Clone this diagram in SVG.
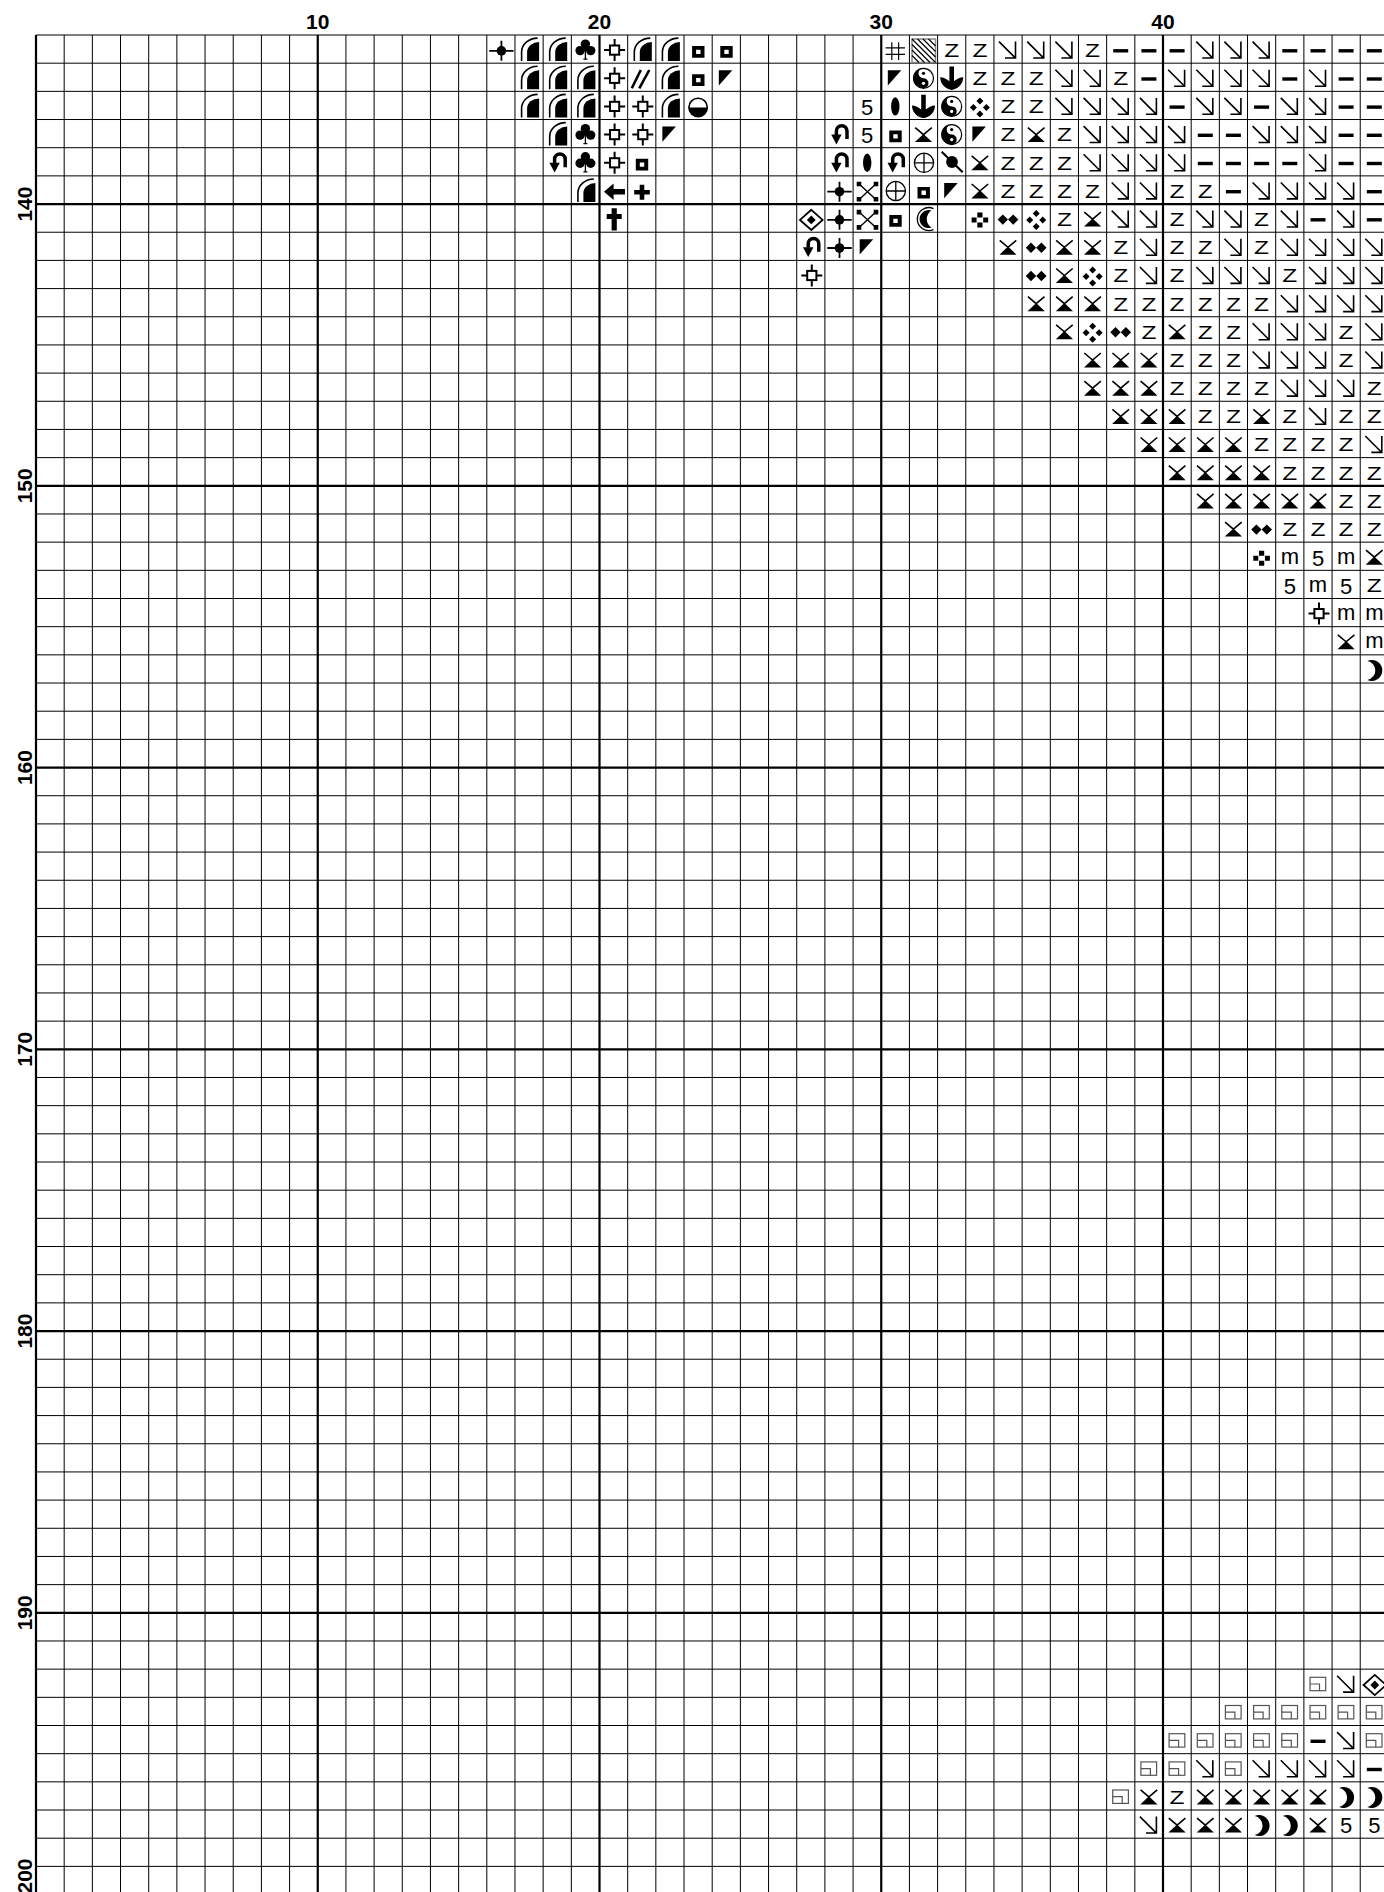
<svg xmlns="http://www.w3.org/2000/svg" width="1384" height="1892" viewBox="0 0 1384 1892">
<style>
.z{font-family:"Liberation Sans",Arial,sans-serif;font-size:17.5px;fill:#000}
.t{font-family:"Liberation Sans",Arial,sans-serif;font-size:22px;text-anchor:middle;fill:#000}
.lb{font-family:"Liberation Sans",Arial,sans-serif;font-size:21px;font-weight:bold;text-anchor:middle;fill:#000}
.thin{fill:none;stroke:#000;stroke-width:1}
.thick{fill:none;stroke:#000;stroke-width:2.2}
</style>
<defs>
<g id="ar" fill="none" stroke="#000" stroke-width="1.6"><path d="M-9,-7.5 L7.5,9 M7.5,-7.5 V9.7 M-3,8.9 H8.3"/></g>
<rect id="dash" x="-7.5" y="0" width="15" height="3.4"/>
<g id="hg"><path d="M-8.3,-6 L0,1 L8.3,-6" fill="none" stroke="#000" stroke-width="1.6"/><path d="M0,0.3 L8.6,8.5 H-8.6 Z"/></g>
<path id="tri" d="M-7.5,-7 H6 L-7.5,8.2 Z"/>
<path id="sqf" d="M-6,-3 H6.4 V8.6 H-6 Z M-2,0.6 V5 H2.4 V0.6 Z" fill-rule="evenodd"/>
<ellipse id="oval" cx="0" cy="1" rx="4.2" ry="9.2"/>
<path id="d4" d="M0,-8 L3.5,-4.5 L0,-1 L-3.5,-4.5 Z M0,5 L3.5,8.5 L0,12 L-3.5,8.5 Z M-10,2 L-6.5,-1.5 L-3,2 L-6.5,5.5 Z M3,2 L6.5,-1.5 L10,2 L6.5,5.5 Z"/>
<path id="dd" d="M-10.4,1.5 L-5.2,-3.7 L0,1.5 L-5.2,6.7 Z M0,1.5 L5.2,-3.7 L10.4,1.5 L5.2,6.7 Z"/>
<path id="fc" d="M-2.6,-5.5 h5.2 v5 h-5.2 Z M-2.6,4.5 h5.2 v5 h-5.2 Z M-8.3,-0.5 h5 v5 h-5 Z M3.3,-0.5 h5 v5 h-5 Z"/>
<g id="dmd"><path d="M0.5,-8.3 L11.8,1.8 L0.5,11.9 L-10.8,1.8 Z" fill="none" stroke="#000" stroke-width="1.8"/><path d="M0.5,-2.6 L4.9,1.8 L0.5,6.2 L-3.9,1.8 Z"/></g>
<g id="ch"><path d="M-11.7,1.7 H12.7 M0.5,-8.3 V11.7" stroke="#000" stroke-width="1.8"/><circle cx="0.5" cy="1.7" r="4.8"/></g>
<g id="xs"><path d="M-7.8,-5.8 L8.4,9.2 M8.4,-5.8 L-7.8,9.2" stroke="#000" stroke-width="1.4"/><path d="M-10.5,-8.3 h4.6 v4.6 h-4.6 Z M6.5,-8.3 h4.6 v4.6 h-4.6 Z M-10.5,7 h4.6 v4.6 h-4.6 Z M6.5,7 h4.6 v4.6 h-4.6 Z"/></g>
<g id="op" fill="none" stroke="#000" stroke-width="1.3"><circle cx="0.5" cy="1" r="9.6"/><path d="M-9.1,1 H10.1 M0.5,-8.6 V10.6"/></g>
<g id="pin"><path d="M-10,-10 L11,10.5" stroke="#000" stroke-width="2.2"/><circle cx="0.3" cy="0.2" r="5.9"/></g>
<g id="ut"><path d="M8,5.5 V-2.5 A5.3,5.3 0 0,0 -2.6,-2.5 V1.5" fill="none" stroke="#000" stroke-width="3.5"/><path d="M-7.8,1 H2.6 L-2.6,10.8 Z"/></g>
<g id="cr1"><path d="M10,-9.5 A11.5,11.5 0 1,0 10,11.5" fill="none" stroke="#000" stroke-width="1.3"/><path d="M8,-7.5 A9,9 0 1,0 8,9.5 A10,10 0 0,1 8,-7.5 Z"/></g>
<path id="cr2" d="M-7,-8 A10.51,10.51 0 1,1 -7,11 A9.64,9.64 0 0,0 -7,-8 Z"/>
<g id="half"><circle cx="0" cy="2" r="9.2" fill="#fff" stroke="#000" stroke-width="1.6"/><path d="M-9.2,2 A9.2,9.2 0 0,0 9.2,2 Z"/></g>
<g id="qa"><path d="M-2,12 V3 A12,10 0 0,1 10,-7 V12 Z"/><path d="M-7.5,12 V3 A16,14 0 0,1 8.5,-11" fill="none" stroke="#000" stroke-width="1.6"/></g>
<g id="club"><circle cx="0" cy="-5" r="4.7"/><circle cx="-5.3" cy="1.5" r="4.7"/><circle cx="5.3" cy="1.5" r="4.7"/><path d="M0,-3 L3,2 L-3,2 Z"/><path d="M0,0 V10 M-2,10 H2" stroke="#000" stroke-width="1.3"/></g>
<g id="sqx" fill="none" stroke="#000" stroke-width="2"><rect x="-3.6" y="-3.6" width="9.2" height="9.2"/><path d="M-9.5,1 H-3.6 M5.6,1 H11.5 M1,-10 V-3.6 M1,5.6 V12"/></g>
<path id="la" d="M-9.6,1.7 L0,-6.6 V-1.1 H11.4 V4.5 H0 V10 Z"/>
<path id="pl" d="M-7.6,0 H-2.1 V-5.2 H2.5 V0 H8 V4.6 H2.5 V9.8 H-2.1 V4.6 H-7.6 Z"/>
<path id="dag" d="M-2,-9.8 H3.2 V-4 H8.1 V1 H3.2 V12.4 H-2 V1 H-6.9 V-4 H-2 Z"/>
<path id="ss" d="M-10,11 L-1,-7.3 M-2.5,11 L7.5,-7.3" stroke="#000" stroke-width="2.6"/>
<path id="hash" d="M-3.5,-6.8 V10.9 M3.3,-6.8 V10.9 M-9.7,-1.3 H9.7 M-9.7,5.3 H9.7" stroke="#000" stroke-width="1.2"/>
<g id="yy"><circle cx="0" cy="1" r="10" fill="#fff" stroke="#000" stroke-width="1.2"/><path d="M0,-9 A10,10 0 0,0 0,11 A5,5 0 0,0 0,1 A5,5 0 0,1 0,-9 Z"/><circle cx="0" cy="6" r="1.6" fill="#fff"/><circle cx="0" cy="-4" r="1.6"/></g>
<path id="anc" d="M-11.5,0 C-11.5,8 -5,12 0,12.7 C5,12 11.5,8 11.5,0 C8,0 5,2 2.3,4 V-10.7 H-2.3 V4 C-5,2 -8,0 -11.5,0 Z"/>
<g id="sqg" fill="none" stroke="#555" stroke-width="1.2"><rect x="-8" y="-5.9" width="15.7" height="13.4"/><path d="M-8,0.8 H1.5 V7.5"/></g>
</defs>
<rect x="0" y="0" width="1384" height="1892" fill="#fff"/>
<g id="grid">
<path class="thin" d="M64.18,35V1892M92.35,35V1892M120.53,35V1892M148.7,35V1892M176.88,35V1892M205.05,35V1892M233.23,35V1892M261.4,35V1892M289.58,35V1892M345.93,35V1892M374.1,35V1892M402.28,35V1892M430.45,35V1892M458.63,35V1892M486.8,35V1892M514.98,35V1892M543.15,35V1892M571.33,35V1892M627.68,35V1892M655.85,35V1892M684.03,35V1892M712.2,35V1892M740.38,35V1892M768.55,35V1892M796.73,35V1892M824.9,35V1892M853.08,35V1892M909.43,35V1892M937.6,35V1892M965.78,35V1892M993.95,35V1892M1022.13,35V1892M1050.3,35V1892M1078.48,35V1892M1106.65,35V1892M1134.83,35V1892M1191.18,35V1892M1219.35,35V1892M1247.53,35V1892M1275.7,35V1892M1303.88,35V1892M1332.05,35V1892M1360.23,35V1892"/>
<path class="thin" d="M36,35H1384M36,63.18H1384M36,91.35H1384M36,119.53H1384M36,147.7H1384M36,175.88H1384M36,232.23H1384M36,260.4H1384M36,288.58H1384M36,316.75H1384M36,344.93H1384M36,373.1H1384M36,401.28H1384M36,429.45H1384M36,457.63H1384M36,513.98H1384M36,542.15H1384M36,570.33H1384M36,598.5H1384M36,626.68H1384M36,654.85H1384M36,683.03H1384M36,711.2H1384M36,739.38H1384M36,795.73H1384M36,823.9H1384M36,852.08H1384M36,880.25H1384M36,908.43H1384M36,936.6H1384M36,964.78H1384M36,992.95H1384M36,1021.13H1384M36,1077.48H1384M36,1105.65H1384M36,1133.83H1384M36,1162H1384M36,1190.18H1384M36,1218.35H1384M36,1246.53H1384M36,1274.7H1384M36,1302.88H1384M36,1359.23H1384M36,1387.4H1384M36,1415.58H1384M36,1443.75H1384M36,1471.93H1384M36,1500.1H1384M36,1528.28H1384M36,1556.45H1384M36,1584.63H1384M36,1640.98H1384M36,1669.15H1384M36,1697.33H1384M36,1725.5H1384M36,1753.68H1384M36,1781.85H1384M36,1810.03H1384M36,1838.2H1384M36,1866.38H1384"/>
<path class="thick" d="M36,35V1892M317.75,35V1892M599.5,35V1892M881.25,35V1892M1163,35V1892M36,204.05H1384M36,485.8H1384M36,767.55H1384M36,1049.3H1384M36,1331.05H1384M36,1612.8H1384"/>
</g>
<g id="labels">
<text class="lb" x="317.75" y="29.3">10</text>
<text class="lb" x="599.5" y="29.3">20</text>
<text class="lb" x="881.25" y="29.3">30</text>
<text class="lb" x="1163" y="29.3">40</text>
<text class="lb" transform="translate(31.7,204.05) rotate(-90)">140</text>
<text class="lb" transform="translate(31.7,485.8) rotate(-90)">150</text>
<text class="lb" transform="translate(31.7,767.55) rotate(-90)">160</text>
<text class="lb" transform="translate(31.7,1049.3) rotate(-90)">170</text>
<text class="lb" transform="translate(31.7,1331.05) rotate(-90)">180</text>
<text class="lb" transform="translate(31.7,1612.8) rotate(-90)">190</text>
<text class="lb" transform="translate(31.7,1876) rotate(-90)">200</text>
</g>
<g id="symbols">
<g id="hatch"><rect x="912" y="39" width="23.5" height="23.5" fill="#fff" stroke="#888" stroke-width="1.5"/><path d="M912,55.5L919,62.5M912,50L924.5,62.5M912,44.5L930,62.5M912,39L935.5,62.5M917.5,39L935.5,57M923,39L935.5,51.5M928.5,39L935.5,46" stroke="#000" stroke-width="1.2"/></g>
<g id="row0" transform="translate(0,49.1)">
<use href="#ch" x="500.9"/><use href="#qa" x="529.1"/><use href="#qa" x="557.2"/><use href="#club" x="585.4"/><use href="#sqx" x="613.6"/><use href="#qa" x="641.8"/><use href="#qa" x="669.9"/><use href="#sqf" x="698.1"/><use href="#sqf" x="726.3"/><use href="#hash" x="895.3"/>
<use href="#ar" x="1008"/><use href="#ar" x="1036.2"/><use href="#ar" x="1064.4"/><use href="#dash" x="1120.7"/><use href="#dash" x="1148.9"/><use href="#dash" x="1177.1"/><use href="#ar" x="1205.3"/><use href="#ar" x="1233.4"/><use href="#ar" x="1261.6"/><use href="#dash" x="1289.8"/><use href="#dash" x="1318"/><use href="#dash" x="1346.1"/><use href="#dash" x="1374.3"/>
<text class="z" x="944.2" y="7.8" textLength="15" lengthAdjust="spacingAndGlyphs">Z</text><text class="z" x="972.4" y="7.8" textLength="15" lengthAdjust="spacingAndGlyphs">Z</text><text class="z" x="1085.1" y="7.8" textLength="15" lengthAdjust="spacingAndGlyphs">Z</text>
</g>
<g id="row1" transform="translate(0,77.3)">
<use href="#qa" x="529.1"/><use href="#qa" x="557.2"/><use href="#qa" x="585.4"/><use href="#sqx" x="613.6"/><use href="#ss" x="641.8"/><use href="#qa" x="669.9"/><use href="#sqf" x="698.1"/><use href="#tri" x="726.3"/><use href="#tri" x="895.3"/><use href="#yy" x="923.5"/><use href="#anc" x="951.7"/>
<use href="#ar" x="1064.4"/><use href="#ar" x="1092.6"/><use href="#dash" x="1148.9"/><use href="#ar" x="1177.1"/><use href="#ar" x="1205.3"/><use href="#ar" x="1233.4"/><use href="#ar" x="1261.6"/><use href="#dash" x="1289.8"/><use href="#ar" x="1318"/><use href="#dash" x="1346.1"/><use href="#dash" x="1374.3"/>
<text class="z" x="972.4" y="7.8" textLength="15" lengthAdjust="spacingAndGlyphs">Z</text><text class="z" x="1000.5" y="7.8" textLength="15" lengthAdjust="spacingAndGlyphs">Z</text><text class="z" x="1028.7" y="7.8" textLength="15" lengthAdjust="spacingAndGlyphs">Z</text><text class="z" x="1113.2" y="7.8" textLength="15" lengthAdjust="spacingAndGlyphs">Z</text>
</g>
<g id="row2" transform="translate(0,105.4)">
<use href="#qa" x="529.1"/><use href="#qa" x="557.2"/><use href="#qa" x="585.4"/><use href="#sqx" x="613.6"/><use href="#sqx" x="641.8"/><use href="#qa" x="669.9"/><use href="#half" x="698.1"/>
<text class="t" x="867.2" y="9.3">5</text>
<use href="#oval" x="895.3"/><use href="#anc" x="923.5"/><use href="#yy" x="951.7"/><use href="#d4" x="979.9"/>
<use href="#ar" x="1064.4"/><use href="#ar" x="1092.6"/><use href="#ar" x="1120.7"/><use href="#ar" x="1148.9"/><use href="#dash" x="1177.1"/><use href="#ar" x="1205.3"/><use href="#ar" x="1233.4"/><use href="#dash" x="1261.6"/><use href="#ar" x="1289.8"/><use href="#ar" x="1318"/><use href="#dash" x="1346.1"/><use href="#dash" x="1374.3"/>
<text class="z" x="1000.5" y="7.8" textLength="15" lengthAdjust="spacingAndGlyphs">Z</text><text class="z" x="1028.7" y="7.8" textLength="15" lengthAdjust="spacingAndGlyphs">Z</text>
</g>
<g id="row3" transform="translate(0,133.6)">
<use href="#qa" x="557.2"/><use href="#club" x="585.4"/><use href="#sqx" x="613.6"/><use href="#sqx" x="641.8"/><use href="#tri" x="669.9"/><use href="#ut" x="839"/>
<text class="t" x="867.2" y="9.3">5</text>
<use href="#sqf" x="895.3"/><use href="#hg" x="923.5"/><use href="#yy" x="951.7"/><use href="#tri" x="979.9"/><use href="#hg" x="1036.2"/>
<use href="#ar" x="1092.6"/><use href="#ar" x="1120.7"/><use href="#ar" x="1148.9"/><use href="#ar" x="1177.1"/><use href="#dash" x="1205.3"/><use href="#dash" x="1233.4"/><use href="#ar" x="1261.6"/><use href="#ar" x="1289.8"/><use href="#ar" x="1318"/><use href="#dash" x="1346.1"/><use href="#dash" x="1374.3"/>
<text class="z" x="1000.5" y="7.8" textLength="15" lengthAdjust="spacingAndGlyphs">Z</text><text class="z" x="1056.9" y="7.8" textLength="15" lengthAdjust="spacingAndGlyphs">Z</text>
</g>
<g id="row4" transform="translate(0,161.8)">
<use href="#ut" x="557.2"/><use href="#club" x="585.4"/><use href="#sqx" x="613.6"/><use href="#sqf" x="641.8"/><use href="#ut" x="839"/><use href="#oval" x="867.2"/><use href="#ut" x="895.3"/><use href="#op" x="923.5"/><use href="#pin" x="951.7"/><use href="#hg" x="979.9"/>
<use href="#ar" x="1092.6"/><use href="#ar" x="1120.7"/><use href="#ar" x="1148.9"/><use href="#ar" x="1177.1"/><use href="#dash" x="1205.3"/><use href="#dash" x="1233.4"/><use href="#dash" x="1261.6"/><use href="#dash" x="1289.8"/><use href="#ar" x="1318"/><use href="#dash" x="1346.1"/><use href="#dash" x="1374.3"/>
<text class="z" x="1000.5" y="7.8" textLength="15" lengthAdjust="spacingAndGlyphs">Z</text><text class="z" x="1028.7" y="7.8" textLength="15" lengthAdjust="spacingAndGlyphs">Z</text><text class="z" x="1056.9" y="7.8" textLength="15" lengthAdjust="spacingAndGlyphs">Z</text>
</g>
<g id="row5" transform="translate(0,190)">
<use href="#qa" x="585.4"/><use href="#la" x="613.6"/><use href="#pl" x="641.8"/><use href="#ch" x="839"/><use href="#xs" x="867.2"/><use href="#op" x="895.3"/><use href="#sqf" x="923.5"/><use href="#tri" x="951.7"/><use href="#hg" x="979.9"/>
<use href="#ar" x="1120.7"/><use href="#ar" x="1148.9"/><use href="#dash" x="1233.4"/><use href="#ar" x="1261.6"/><use href="#ar" x="1289.8"/><use href="#ar" x="1318"/><use href="#ar" x="1346.1"/><use href="#dash" x="1374.3"/>
<text class="z" x="1000.5" y="7.8" textLength="15" lengthAdjust="spacingAndGlyphs">Z</text><text class="z" x="1028.7" y="7.8" textLength="15" lengthAdjust="spacingAndGlyphs">Z</text><text class="z" x="1056.9" y="7.8" textLength="15" lengthAdjust="spacingAndGlyphs">Z</text><text class="z" x="1085.1" y="7.8" textLength="15" lengthAdjust="spacingAndGlyphs">Z</text><text class="z" x="1169.6" y="7.8" textLength="15" lengthAdjust="spacingAndGlyphs">Z</text><text class="z" x="1197.8" y="7.8" textLength="15" lengthAdjust="spacingAndGlyphs">Z</text>
</g>
<g id="row6" transform="translate(0,218.1)">
<use href="#dag" x="613.6"/><use href="#dmd" x="810.8"/><use href="#ch" x="839"/><use href="#xs" x="867.2"/><use href="#sqf" x="895.3"/><use href="#cr1" x="923.5"/><use href="#fc" x="979.9"/><use href="#dd" x="1008"/><use href="#d4" x="1036.2"/><use href="#hg" x="1092.6"/>
<use href="#ar" x="1120.7"/><use href="#ar" x="1148.9"/><use href="#ar" x="1205.3"/><use href="#ar" x="1233.4"/><use href="#ar" x="1289.8"/><use href="#dash" x="1318"/><use href="#ar" x="1346.1"/><use href="#dash" x="1374.3"/>
<text class="z" x="1056.9" y="7.8" textLength="15" lengthAdjust="spacingAndGlyphs">Z</text><text class="z" x="1169.6" y="7.8" textLength="15" lengthAdjust="spacingAndGlyphs">Z</text><text class="z" x="1254.1" y="7.8" textLength="15" lengthAdjust="spacingAndGlyphs">Z</text>
</g>
<g id="row7" transform="translate(0,246.3)">
<use href="#ut" x="810.8"/><use href="#ch" x="839"/><use href="#tri" x="867.2"/><use href="#hg" x="1008"/><use href="#dd" x="1036.2"/><use href="#hg" x="1064.4"/><use href="#hg" x="1092.6"/>
<use href="#ar" x="1148.9"/><use href="#ar" x="1233.4"/><use href="#ar" x="1289.8"/><use href="#ar" x="1318"/><use href="#ar" x="1346.1"/><use href="#ar" x="1374.3"/>
<text class="z" x="1113.2" y="7.8" textLength="15" lengthAdjust="spacingAndGlyphs">Z</text><text class="z" x="1169.6" y="7.8" textLength="15" lengthAdjust="spacingAndGlyphs">Z</text><text class="z" x="1197.8" y="7.8" textLength="15" lengthAdjust="spacingAndGlyphs">Z</text><text class="z" x="1254.1" y="7.8" textLength="15" lengthAdjust="spacingAndGlyphs">Z</text>
</g>
<g id="row8" transform="translate(0,274.5)">
<use href="#sqx" x="810.8"/><use href="#dd" x="1036.2"/><use href="#hg" x="1064.4"/><use href="#d4" x="1092.6"/>
<use href="#ar" x="1148.9"/><use href="#ar" x="1205.3"/><use href="#ar" x="1233.4"/><use href="#ar" x="1261.6"/><use href="#ar" x="1318"/><use href="#ar" x="1346.1"/><use href="#ar" x="1374.3"/>
<text class="z" x="1113.2" y="7.8" textLength="15" lengthAdjust="spacingAndGlyphs">Z</text><text class="z" x="1169.6" y="7.8" textLength="15" lengthAdjust="spacingAndGlyphs">Z</text><text class="z" x="1282.3" y="7.8" textLength="15" lengthAdjust="spacingAndGlyphs">Z</text>
</g>
<g id="row9" transform="translate(0,302.7)">
<use href="#hg" x="1036.2"/><use href="#hg" x="1064.4"/><use href="#hg" x="1092.6"/>
<use href="#ar" x="1289.8"/><use href="#ar" x="1318"/><use href="#ar" x="1346.1"/><use href="#ar" x="1374.3"/>
<text class="z" x="1113.2" y="7.8" textLength="15" lengthAdjust="spacingAndGlyphs">Z</text><text class="z" x="1141.4" y="7.8" textLength="15" lengthAdjust="spacingAndGlyphs">Z</text><text class="z" x="1169.6" y="7.8" textLength="15" lengthAdjust="spacingAndGlyphs">Z</text><text class="z" x="1197.8" y="7.8" textLength="15" lengthAdjust="spacingAndGlyphs">Z</text><text class="z" x="1225.9" y="7.8" textLength="15" lengthAdjust="spacingAndGlyphs">Z</text><text class="z" x="1254.1" y="7.8" textLength="15" lengthAdjust="spacingAndGlyphs">Z</text>
</g>
<g id="row10" transform="translate(0,330.8)">
<use href="#hg" x="1064.4"/><use href="#d4" x="1092.6"/><use href="#dd" x="1120.7"/><use href="#hg" x="1177.1"/>
<use href="#ar" x="1261.6"/><use href="#ar" x="1289.8"/><use href="#ar" x="1318"/><use href="#ar" x="1374.3"/>
<text class="z" x="1141.4" y="7.8" textLength="15" lengthAdjust="spacingAndGlyphs">Z</text><text class="z" x="1197.8" y="7.8" textLength="15" lengthAdjust="spacingAndGlyphs">Z</text><text class="z" x="1225.9" y="7.8" textLength="15" lengthAdjust="spacingAndGlyphs">Z</text><text class="z" x="1338.6" y="7.8" textLength="15" lengthAdjust="spacingAndGlyphs">Z</text>
</g>
<g id="row11" transform="translate(0,359)">
<use href="#hg" x="1092.6"/><use href="#hg" x="1120.7"/><use href="#hg" x="1148.9"/>
<use href="#ar" x="1261.6"/><use href="#ar" x="1289.8"/><use href="#ar" x="1318"/><use href="#ar" x="1374.3"/>
<text class="z" x="1169.6" y="7.8" textLength="15" lengthAdjust="spacingAndGlyphs">Z</text><text class="z" x="1197.8" y="7.8" textLength="15" lengthAdjust="spacingAndGlyphs">Z</text><text class="z" x="1225.9" y="7.8" textLength="15" lengthAdjust="spacingAndGlyphs">Z</text><text class="z" x="1338.6" y="7.8" textLength="15" lengthAdjust="spacingAndGlyphs">Z</text>
</g>
<g id="row12" transform="translate(0,387.2)">
<use href="#hg" x="1092.6"/><use href="#hg" x="1120.7"/><use href="#hg" x="1148.9"/>
<use href="#ar" x="1289.8"/><use href="#ar" x="1318"/><use href="#ar" x="1346.1"/>
<text class="z" x="1169.6" y="7.8" textLength="15" lengthAdjust="spacingAndGlyphs">Z</text><text class="z" x="1197.8" y="7.8" textLength="15" lengthAdjust="spacingAndGlyphs">Z</text><text class="z" x="1225.9" y="7.8" textLength="15" lengthAdjust="spacingAndGlyphs">Z</text><text class="z" x="1254.1" y="7.8" textLength="15" lengthAdjust="spacingAndGlyphs">Z</text><text class="z" x="1366.8" y="7.8" textLength="15" lengthAdjust="spacingAndGlyphs">Z</text>
</g>
<g id="row13" transform="translate(0,415.4)">
<use href="#hg" x="1120.7"/><use href="#hg" x="1148.9"/><use href="#hg" x="1177.1"/><use href="#hg" x="1261.6"/><use href="#ar" x="1318"/>
<text class="z" x="1197.8" y="7.8" textLength="15" lengthAdjust="spacingAndGlyphs">Z</text><text class="z" x="1225.9" y="7.8" textLength="15" lengthAdjust="spacingAndGlyphs">Z</text><text class="z" x="1282.3" y="7.8" textLength="15" lengthAdjust="spacingAndGlyphs">Z</text><text class="z" x="1338.6" y="7.8" textLength="15" lengthAdjust="spacingAndGlyphs">Z</text><text class="z" x="1366.8" y="7.8" textLength="15" lengthAdjust="spacingAndGlyphs">Z</text>
</g>
<g id="row14" transform="translate(0,443.5)">
<use href="#hg" x="1148.9"/><use href="#hg" x="1177.1"/><use href="#hg" x="1205.3"/><use href="#hg" x="1233.4"/><use href="#ar" x="1374.3"/>
<text class="z" x="1254.1" y="7.8" textLength="15" lengthAdjust="spacingAndGlyphs">Z</text><text class="z" x="1282.3" y="7.8" textLength="15" lengthAdjust="spacingAndGlyphs">Z</text><text class="z" x="1310.5" y="7.8" textLength="15" lengthAdjust="spacingAndGlyphs">Z</text><text class="z" x="1338.6" y="7.8" textLength="15" lengthAdjust="spacingAndGlyphs">Z</text>
</g>
<g id="row15" transform="translate(0,471.7)">
<use href="#hg" x="1177.1"/><use href="#hg" x="1205.3"/><use href="#hg" x="1233.4"/><use href="#hg" x="1261.6"/>
<text class="z" x="1282.3" y="7.8" textLength="15" lengthAdjust="spacingAndGlyphs">Z</text><text class="z" x="1310.5" y="7.8" textLength="15" lengthAdjust="spacingAndGlyphs">Z</text><text class="z" x="1338.6" y="7.8" textLength="15" lengthAdjust="spacingAndGlyphs">Z</text><text class="z" x="1366.8" y="7.8" textLength="15" lengthAdjust="spacingAndGlyphs">Z</text>
</g>
<g id="row16" transform="translate(0,499.9)">
<use href="#hg" x="1205.3"/><use href="#hg" x="1233.4"/><use href="#hg" x="1261.6"/><use href="#hg" x="1289.8"/><use href="#hg" x="1318"/>
<text class="z" x="1338.6" y="7.8" textLength="15" lengthAdjust="spacingAndGlyphs">Z</text><text class="z" x="1366.8" y="7.8" textLength="15" lengthAdjust="spacingAndGlyphs">Z</text>
</g>
<g id="row17" transform="translate(0,528.1)">
<use href="#hg" x="1233.4"/><use href="#dd" x="1261.6"/>
<text class="z" x="1282.3" y="7.8" textLength="15" lengthAdjust="spacingAndGlyphs">Z</text><text class="z" x="1310.5" y="7.8" textLength="15" lengthAdjust="spacingAndGlyphs">Z</text><text class="z" x="1338.6" y="7.8" textLength="15" lengthAdjust="spacingAndGlyphs">Z</text><text class="z" x="1366.8" y="7.8" textLength="15" lengthAdjust="spacingAndGlyphs">Z</text>
</g>
<g id="row18" transform="translate(0,556.2)">
<use href="#fc" x="1261.6"/><use href="#hg" x="1374.3"/>
<text class="t" x="1289.8" y="7.5">m</text><text class="t" x="1318" y="9.3">5</text><text class="t" x="1346.1" y="7.5">m</text>
</g>
<g id="row19" transform="translate(0,584.4)">
<text class="t" x="1289.8" y="9.3">5</text><text class="t" x="1318" y="7.5">m</text><text class="t" x="1346.1" y="9.3">5</text>
<text class="z" x="1366.8" y="7.8" textLength="15" lengthAdjust="spacingAndGlyphs">Z</text>
</g>
<g id="row20" transform="translate(0,612.6)">
<use href="#sqx" x="1318"/><text class="t" x="1346.1" y="7.5">m</text><text class="t" x="1374.3" y="7.5">m</text>
</g>
<g id="row21" transform="translate(0,640.8)">
<use href="#hg" x="1346.1"/><text class="t" x="1374.3" y="7.5">m</text>
</g>
<g id="row22" transform="translate(0,668.9)">
<use href="#cr2" x="1374.3"/>
</g>
<g id="row58" transform="translate(0,1683.2)">
<use href="#sqg" x="1318"/><use href="#ar" x="1346.1"/><use href="#dmd" x="1374.3"/>
</g>
<g id="row59" transform="translate(0,1711.4)">
<use href="#sqg" x="1233.4"/><use href="#sqg" x="1261.6"/><use href="#sqg" x="1289.8"/><use href="#sqg" x="1318"/><use href="#sqg" x="1346.1"/><use href="#sqg" x="1374.3"/>
</g>
<g id="row60" transform="translate(0,1739.6)">
<use href="#sqg" x="1177.1"/><use href="#sqg" x="1205.3"/><use href="#sqg" x="1233.4"/><use href="#sqg" x="1261.6"/><use href="#sqg" x="1289.8"/><use href="#dash" x="1318"/><use href="#ar" x="1346.1"/><use href="#sqg" x="1374.3"/>
</g>
<g id="row61" transform="translate(0,1767.8)">
<use href="#sqg" x="1148.9"/><use href="#sqg" x="1177.1"/><use href="#ar" x="1205.3"/><use href="#sqg" x="1233.4"/><use href="#ar" x="1261.6"/><use href="#ar" x="1289.8"/><use href="#ar" x="1318"/><use href="#ar" x="1346.1"/><use href="#dash" x="1374.3"/>
</g>
<g id="row62" transform="translate(0,1795.9)">
<use href="#sqg" x="1120.7"/><use href="#hg" x="1148.9"/><use href="#hg" x="1205.3"/><use href="#hg" x="1233.4"/><use href="#hg" x="1261.6"/><use href="#hg" x="1289.8"/><use href="#hg" x="1318"/><use href="#cr2" x="1346.1"/><use href="#cr2" x="1374.3"/>
<text class="z" x="1169.6" y="7.8" textLength="15" lengthAdjust="spacingAndGlyphs">Z</text>
</g>
<g id="row63" transform="translate(0,1824.1)">
<use href="#ar" x="1148.9"/><use href="#hg" x="1177.1"/><use href="#hg" x="1205.3"/><use href="#hg" x="1233.4"/><use href="#cr2" x="1261.6"/><use href="#cr2" x="1289.8"/><use href="#hg" x="1318"/>
<text class="t" x="1346.1" y="9.3">5</text><text class="t" x="1374.3" y="9.3">5</text>
</g>
</g>
</svg>
